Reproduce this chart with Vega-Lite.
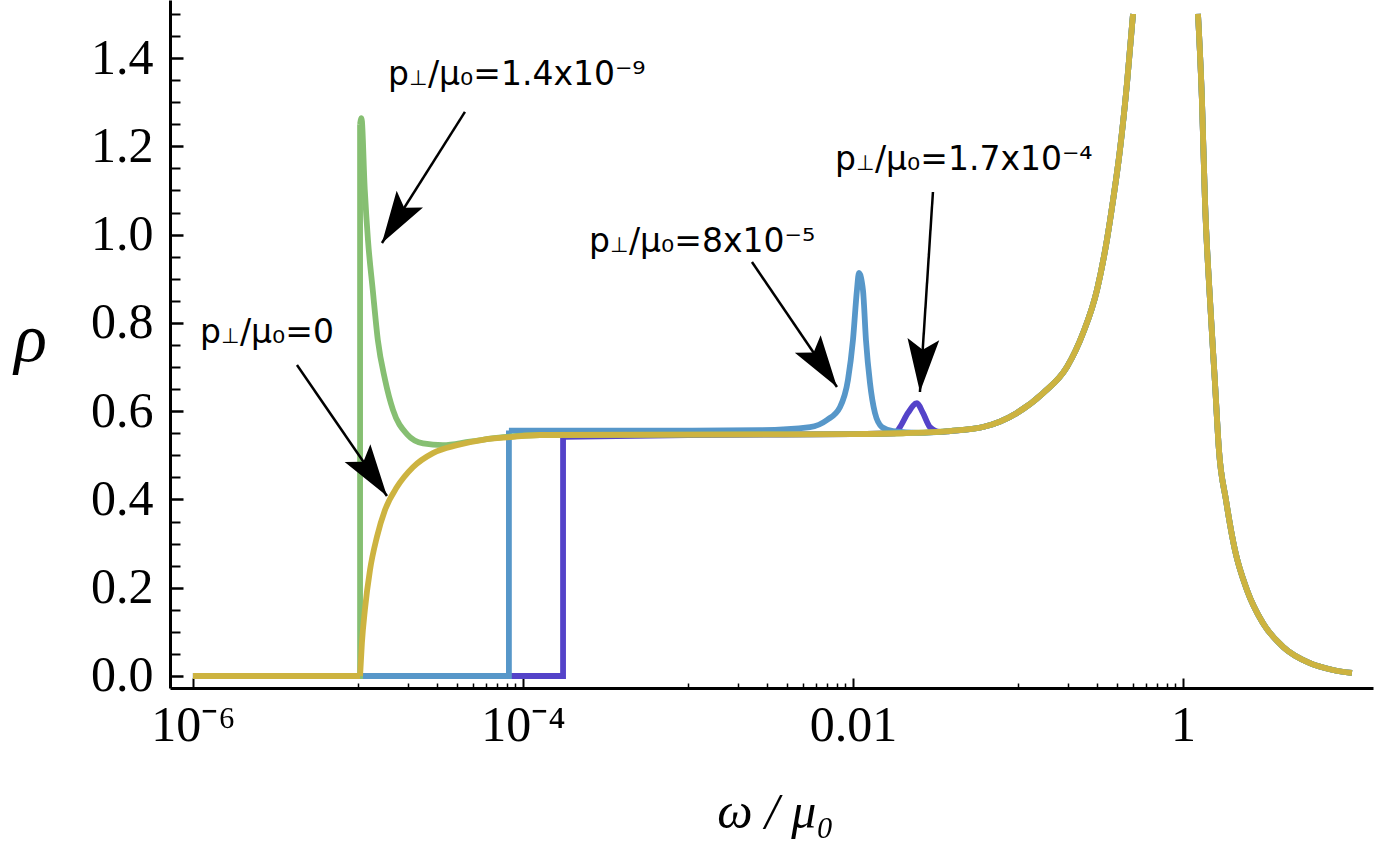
{
  "$schema": "https://vega.github.io/schema/vega-lite/v6.json",
  "autosize": "none",
  "width": 1203,
  "height": 688,
  "padding": {"left": 170, "top": 0, "right": 4, "bottom": 162},
  "background": "white",
  "config": {"view": {"stroke": null}, "axis": {"grid": false}},
  "resolve": {"axis": {"x": "independent", "y": "independent"}},
  "datasets": {
    "curves": [
      {"s":"v17","k":"step","g":"a","i":0,"x":1e-6,"y":0},
      {"s":"v17","k":"step","g":"a","i":1,"x":1.75e-4,"y":0},
      {"s":"v17","k":"step","g":"a","i":2,"x":1.75e-4,"y":0.542},
      {"s":"v17","k":"curve","g":"a","i":2,"x":1.75e-4,"y":0.542},
      {"s":"v17","k":"curve","g":"a","i":3,"x":1e-3,"y":0.546},
      {"s":"v17","k":"curve","g":"a","i":4,"x":0.01,"y":0.548},
      {"s":"v17","k":"curve","g":"a","i":5,"x":0.018,"y":0.550},
      {"s":"v17","k":"curve","g":"a","i":6,"x":0.01927,"y":0.564},
      {"s":"v17","k":"curve","g":"a","i":7,"x":0.02154,"y":0.596},
      {"s":"v17","k":"curve","g":"a","i":8,"x":0.02443,"y":0.618},
      {"s":"v17","k":"curve","g":"a","i":9,"x":0.02655,"y":0.596},
      {"s":"v17","k":"curve","g":"a","i":10,"x":0.02928,"y":0.564},
      {"s":"v17","k":"curve","g":"a","i":11,"x":0.03367,"y":0.553},
      {"s":"v17","k":"curve","g":"a","i":100,"x":0.0387,"y":0.555},
      {"s":"v17","k":"curve","g":"a","i":101,"x":0.0614,"y":0.564},
      {"s":"v17","k":"curve","g":"a","i":102,"x":0.0986,"y":0.596},
      {"s":"v17","k":"curve","g":"a","i":103,"x":0.142,"y":0.641},
      {"s":"v17","k":"curve","g":"a","i":104,"x":0.198,"y":0.700},
      {"s":"v17","k":"curve","g":"a","i":105,"x":0.248,"y":0.777},
      {"s":"v17","k":"curve","g":"a","i":106,"x":0.301,"y":0.874},
      {"s":"v17","k":"curve","g":"a","i":107,"x":0.346,"y":0.988},
      {"s":"v17","k":"curve","g":"a","i":108,"x":0.377,"y":1.078},
      {"s":"v17","k":"curve","g":"a","i":109,"x":0.415,"y":1.192},
      {"s":"v17","k":"curve","g":"a","i":110,"x":0.458,"y":1.343},
      {"s":"v17","k":"curve","g":"a","i":111,"x":0.498,"y":1.5},
      {"s":"v17","k":"curve","g":"b","i":200,"x":1.233,"y":1.5},
      {"s":"v17","k":"curve","g":"b","i":201,"x":1.303,"y":1.305},
      {"s":"v17","k":"curve","g":"b","i":202,"x":1.359,"y":1.078},
      {"s":"v17","k":"curve","g":"b","i":203,"x":1.458,"y":0.852},
      {"s":"v17","k":"curve","g":"b","i":204,"x":1.563,"y":0.664},
      {"s":"v17","k":"curve","g":"b","i":205,"x":1.652,"y":0.512},
      {"s":"v17","k":"curve","g":"b","i":206,"x":1.822,"y":0.399},
      {"s":"v17","k":"curve","g":"b","i":207,"x":2.066,"y":0.285},
      {"s":"v17","k":"curve","g":"b","i":208,"x":2.442,"y":0.195},
      {"s":"v17","k":"curve","g":"b","i":209,"x":3.05,"y":0.120},
      {"s":"v17","k":"curve","g":"b","i":210,"x":4.04,"y":0.066},
      {"s":"v17","k":"curve","g":"b","i":211,"x":5.88,"y":0.029},
      {"s":"v17","k":"curve","g":"b","i":212,"x":8.11,"y":0.0136},
      {"s":"v17","k":"curve","g":"b","i":213,"x":10.57,"y":0.0068},

      {"s":"b8","k":"step","g":"a","i":0,"x":1e-6,"y":0},
      {"s":"b8","k":"step","g":"a","i":1,"x":8.22e-5,"y":0},
      {"s":"b8","k":"step","g":"a","i":2,"x":8.22e-5,"y":0.556},
      {"s":"b8","k":"curve","g":"a","i":2,"x":8.22e-5,"y":0.556},
      {"s":"b8","k":"curve","g":"a","i":3,"x":1e-3,"y":0.556},
      {"s":"b8","k":"curve","g":"a","i":4,"x":2.73e-3,"y":0.557},
      {"s":"b8","k":"curve","g":"a","i":5,"x":5.49e-3,"y":0.564},
      {"s":"b8","k":"curve","g":"a","i":6,"x":6.96e-3,"y":0.580},
      {"s":"b8","k":"curve","g":"a","i":7,"x":8.34e-3,"y":0.609},
      {"s":"b8","k":"curve","g":"a","i":8,"x":9.33e-3,"y":0.671},
      {"s":"b8","k":"curve","g":"a","i":9,"x":0.0100,"y":0.761},
      {"s":"b8","k":"curve","g":"a","i":10,"x":0.01057,"y":0.874},
      {"s":"b8","k":"curve","g":"a","i":11,"x":0.01087,"y":0.913},
      {"s":"b8","k":"curve","g":"a","i":12,"x":0.0115,"y":0.874},
      {"s":"b8","k":"curve","g":"a","i":13,"x":0.01199,"y":0.761},
      {"s":"b8","k":"curve","g":"a","i":14,"x":0.01268,"y":0.664},
      {"s":"b8","k":"curve","g":"a","i":15,"x":0.01359,"y":0.596},
      {"s":"b8","k":"curve","g":"a","i":16,"x":0.01499,"y":0.564},
      {"s":"b8","k":"curve","g":"a","i":17,"x":0.01748,"y":0.555},
      {"s":"b8","k":"curve","g":"a","i":18,"x":0.025,"y":0.551},
      {"s":"b8","k":"curve","g":"a","i":100,"x":0.0387,"y":0.555},
      {"s":"b8","k":"curve","g":"a","i":101,"x":0.0614,"y":0.564},
      {"s":"b8","k":"curve","g":"a","i":102,"x":0.0986,"y":0.596},
      {"s":"b8","k":"curve","g":"a","i":103,"x":0.142,"y":0.641},
      {"s":"b8","k":"curve","g":"a","i":104,"x":0.198,"y":0.700},
      {"s":"b8","k":"curve","g":"a","i":105,"x":0.248,"y":0.777},
      {"s":"b8","k":"curve","g":"a","i":106,"x":0.301,"y":0.874},
      {"s":"b8","k":"curve","g":"a","i":107,"x":0.346,"y":0.988},
      {"s":"b8","k":"curve","g":"a","i":108,"x":0.377,"y":1.078},
      {"s":"b8","k":"curve","g":"a","i":109,"x":0.415,"y":1.192},
      {"s":"b8","k":"curve","g":"a","i":110,"x":0.458,"y":1.343},
      {"s":"b8","k":"curve","g":"a","i":111,"x":0.498,"y":1.5},
      {"s":"b8","k":"curve","g":"b","i":200,"x":1.233,"y":1.5},
      {"s":"b8","k":"curve","g":"b","i":201,"x":1.303,"y":1.305},
      {"s":"b8","k":"curve","g":"b","i":202,"x":1.359,"y":1.078},
      {"s":"b8","k":"curve","g":"b","i":203,"x":1.458,"y":0.852},
      {"s":"b8","k":"curve","g":"b","i":204,"x":1.563,"y":0.664},
      {"s":"b8","k":"curve","g":"b","i":205,"x":1.652,"y":0.512},
      {"s":"b8","k":"curve","g":"b","i":206,"x":1.822,"y":0.399},
      {"s":"b8","k":"curve","g":"b","i":207,"x":2.066,"y":0.285},
      {"s":"b8","k":"curve","g":"b","i":208,"x":2.442,"y":0.195},
      {"s":"b8","k":"curve","g":"b","i":209,"x":3.05,"y":0.120},
      {"s":"b8","k":"curve","g":"b","i":210,"x":4.04,"y":0.066},
      {"s":"b8","k":"curve","g":"b","i":211,"x":5.88,"y":0.029},
      {"s":"b8","k":"curve","g":"b","i":212,"x":8.11,"y":0.0136},
      {"s":"b8","k":"curve","g":"b","i":213,"x":10.57,"y":0.0068},

      {"s":"g14","k":"step","g":"a","i":0,"x":1e-6,"y":0},
      {"s":"g14","k":"step","g":"a","i":1,"x":1.03e-5,"y":0},
      {"s":"g14","k":"step","g":"a","i":2,"x":1.03e-5,"y":1.25},
      {"s":"g14","k":"curve","g":"a","i":2,"x":1.03e-5,"y":1.25},
      {"s":"g14","k":"curve","g":"a","i":3,"x":1.05e-5,"y":1.264},
      {"s":"g14","k":"curve","g":"a","i":4,"x":1.10e-5,"y":1.101},
      {"s":"g14","k":"curve","g":"a","i":5,"x":1.15e-5,"y":0.988},
      {"s":"g14","k":"curve","g":"a","i":6,"x":1.23e-5,"y":0.874},
      {"s":"g14","k":"curve","g":"a","i":7,"x":1.32e-5,"y":0.761},
      {"s":"g14","k":"curve","g":"a","i":8,"x":1.46e-5,"y":0.671},
      {"s":"g14","k":"curve","g":"a","i":9,"x":1.63e-5,"y":0.603},
      {"s":"g14","k":"curve","g":"a","i":10,"x":1.98e-5,"y":0.548},
      {"s":"g14","k":"curve","g":"a","i":11,"x":2.48e-5,"y":0.527},
      {"s":"g14","k":"curve","g":"a","i":12,"x":3.27e-5,"y":0.523},
      {"s":"g14","k":"curve","g":"a","i":13,"x":4.77e-5,"y":0.531},
      {"s":"g14","k":"curve","g":"a","i":14,"x":7.57e-5,"y":0.541},
      {"s":"g14","k":"curve","g":"a","i":15,"x":1.27e-4,"y":0.546},
      {"s":"g14","k":"curve","g":"a","i":16,"x":1e-3,"y":0.547},
      {"s":"g14","k":"curve","g":"a","i":17,"x":0.01,"y":0.548},
      {"s":"g14","k":"curve","g":"a","i":18,"x":0.02,"y":0.550},
      {"s":"g14","k":"curve","g":"a","i":100,"x":0.0387,"y":0.555},
      {"s":"g14","k":"curve","g":"a","i":101,"x":0.0614,"y":0.564},
      {"s":"g14","k":"curve","g":"a","i":102,"x":0.0986,"y":0.596},
      {"s":"g14","k":"curve","g":"a","i":103,"x":0.142,"y":0.641},
      {"s":"g14","k":"curve","g":"a","i":104,"x":0.198,"y":0.700},
      {"s":"g14","k":"curve","g":"a","i":105,"x":0.248,"y":0.777},
      {"s":"g14","k":"curve","g":"a","i":106,"x":0.301,"y":0.874},
      {"s":"g14","k":"curve","g":"a","i":107,"x":0.346,"y":0.988},
      {"s":"g14","k":"curve","g":"a","i":108,"x":0.377,"y":1.078},
      {"s":"g14","k":"curve","g":"a","i":109,"x":0.415,"y":1.192},
      {"s":"g14","k":"curve","g":"a","i":110,"x":0.458,"y":1.343},
      {"s":"g14","k":"curve","g":"a","i":111,"x":0.498,"y":1.5},
      {"s":"g14","k":"curve","g":"b","i":200,"x":1.233,"y":1.5},
      {"s":"g14","k":"curve","g":"b","i":201,"x":1.303,"y":1.305},
      {"s":"g14","k":"curve","g":"b","i":202,"x":1.359,"y":1.078},
      {"s":"g14","k":"curve","g":"b","i":203,"x":1.458,"y":0.852},
      {"s":"g14","k":"curve","g":"b","i":204,"x":1.563,"y":0.664},
      {"s":"g14","k":"curve","g":"b","i":205,"x":1.652,"y":0.512},
      {"s":"g14","k":"curve","g":"b","i":206,"x":1.822,"y":0.399},
      {"s":"g14","k":"curve","g":"b","i":207,"x":2.066,"y":0.285},
      {"s":"g14","k":"curve","g":"b","i":208,"x":2.442,"y":0.195},
      {"s":"g14","k":"curve","g":"b","i":209,"x":3.05,"y":0.120},
      {"s":"g14","k":"curve","g":"b","i":210,"x":4.04,"y":0.066},
      {"s":"g14","k":"curve","g":"b","i":211,"x":5.88,"y":0.029},
      {"s":"g14","k":"curve","g":"b","i":212,"x":8.11,"y":0.0136},
      {"s":"g14","k":"curve","g":"b","i":213,"x":10.57,"y":0.0068},

      {"s":"p0","k":"step","g":"a","i":0,"x":1e-6,"y":0},
      {"s":"p0","k":"step","g":"a","i":1,"x":1.03e-5,"y":0},
      {"s":"p0","k":"curve","g":"a","i":1,"x":1.03e-5,"y":0},
      {"s":"p0","k":"curve","g":"a","i":2,"x":1.057e-5,"y":0.075},
      {"s":"p0","k":"curve","g":"a","i":3,"x":1.102e-5,"y":0.150},
      {"s":"p0","k":"curve","g":"a","i":4,"x":1.183e-5,"y":0.240},
      {"s":"p0","k":"curve","g":"a","i":5,"x":1.303e-5,"y":0.315},
      {"s":"p0","k":"curve","g":"a","i":6,"x":1.458e-5,"y":0.376},
      {"s":"p0","k":"curve","g":"a","i":7,"x":1.723e-5,"y":0.428},
      {"s":"p0","k":"curve","g":"a","i":8,"x":2.154e-5,"y":0.473},
      {"s":"p0","k":"curve","g":"a","i":9,"x":2.848e-5,"y":0.505},
      {"s":"p0","k":"curve","g":"a","i":10,"x":3.98e-5,"y":0.523},
      {"s":"p0","k":"curve","g":"a","i":11,"x":5.72e-5,"y":0.535},
      {"s":"p0","k":"curve","g":"a","i":12,"x":8.34e-5,"y":0.541},
      {"s":"p0","k":"curve","g":"a","i":13,"x":1.268e-4,"y":0.546},
      {"s":"p0","k":"curve","g":"a","i":14,"x":1e-3,"y":0.547},
      {"s":"p0","k":"curve","g":"a","i":15,"x":0.01,"y":0.548},
      {"s":"p0","k":"curve","g":"a","i":16,"x":0.02,"y":0.550},
      {"s":"p0","k":"curve","g":"a","i":100,"x":0.0387,"y":0.555},
      {"s":"p0","k":"curve","g":"a","i":101,"x":0.0614,"y":0.564},
      {"s":"p0","k":"curve","g":"a","i":102,"x":0.0986,"y":0.596},
      {"s":"p0","k":"curve","g":"a","i":103,"x":0.142,"y":0.641},
      {"s":"p0","k":"curve","g":"a","i":104,"x":0.198,"y":0.700},
      {"s":"p0","k":"curve","g":"a","i":105,"x":0.248,"y":0.777},
      {"s":"p0","k":"curve","g":"a","i":106,"x":0.301,"y":0.874},
      {"s":"p0","k":"curve","g":"a","i":107,"x":0.346,"y":0.988},
      {"s":"p0","k":"curve","g":"a","i":108,"x":0.377,"y":1.078},
      {"s":"p0","k":"curve","g":"a","i":109,"x":0.415,"y":1.192},
      {"s":"p0","k":"curve","g":"a","i":110,"x":0.458,"y":1.343},
      {"s":"p0","k":"curve","g":"a","i":111,"x":0.498,"y":1.5},
      {"s":"p0","k":"curve","g":"b","i":200,"x":1.233,"y":1.5},
      {"s":"p0","k":"curve","g":"b","i":201,"x":1.303,"y":1.305},
      {"s":"p0","k":"curve","g":"b","i":202,"x":1.359,"y":1.078},
      {"s":"p0","k":"curve","g":"b","i":203,"x":1.458,"y":0.852},
      {"s":"p0","k":"curve","g":"b","i":204,"x":1.563,"y":0.664},
      {"s":"p0","k":"curve","g":"b","i":205,"x":1.652,"y":0.512},
      {"s":"p0","k":"curve","g":"b","i":206,"x":1.822,"y":0.399},
      {"s":"p0","k":"curve","g":"b","i":207,"x":2.066,"y":0.285},
      {"s":"p0","k":"curve","g":"b","i":208,"x":2.442,"y":0.195},
      {"s":"p0","k":"curve","g":"b","i":209,"x":3.05,"y":0.120},
      {"s":"p0","k":"curve","g":"b","i":210,"x":4.04,"y":0.066},
      {"s":"p0","k":"curve","g":"b","i":211,"x":5.88,"y":0.029},
      {"s":"p0","k":"curve","g":"b","i":212,"x":8.11,"y":0.0136},
      {"s":"p0","k":"curve","g":"b","i":213,"x":10.57,"y":0.0068}
    ],
    "arrows": [
      {"id":1,"x":4.45e-5,"y":1.278,"x2":1.398e-5,"y2":0.981},
      {"id":2,"x":4.27e-6,"y":0.7046,"x2":1.499e-5,"y2":0.4078},
      {"id":3,"x":2.443e-3,"y":0.938,"x2":8.0e-3,"y2":0.6547},
      {"id":4,"x":0.03053,"y":1.0965,"x2":0.02547,"y2":0.6434}
    ],
    "labels": [
      {"x":2.655e-5,"y":1.339,"t":"/μ₀=1.4x10⁻⁹"},
      {"x":1.927e-6,"y":0.7544,"t":"/μ₀=0"},
      {"x":4.39e-4,"y":0.9606,"t":"/μ₀=8x10⁻⁵"},
      {"x":0.01359,"y":1.1464,"t":"/μ₀=1.7x10⁻⁴"}
    ]
  },
  "encoding": {
    "x": {"field": "x", "type": "quantitative", "scale": {"type": "log", "domain": [7.26e-7, 14.18], "nice": false}, "axis": null},
    "y": {"field": "y", "type": "quantitative", "scale": {"domain": [-0.0272, 1.5315], "nice": false, "zero": false}, "axis": null}
  },
  "layer": [
    {
      "data": {"name": "curves"},
      "mark": {"type": "point", "opacity": 0},
      "encoding": {
        "x": {"field": "x", "type": "quantitative", "axis": {"orient": "bottom", "values": [1e-5,2e-5,3e-5,4e-5,5e-5,6e-5,7e-5,8e-5,9e-5,1e-3,2e-3,3e-3,4e-3,5e-3,6e-3,7e-3,8e-3,9e-3,0.1,0.2,0.3,0.4,0.5,0.6,0.7,0.8,0.9], "labels": false, "domain": false, "ticks": true, "tickSize": -5, "tickWidth": 1.5, "tickColor": "black", "title": null, "grid": false}},
        "y": {"field": "y", "type": "quantitative", "axis": {"orient": "left", "values": [0.05,0.1,0.15,0.25,0.3,0.35,0.45,0.5,0.55,0.65,0.7,0.75,0.85,0.9,0.95,1.05,1.1,1.15,1.25,1.3,1.35,1.45,1.5], "labels": false, "domain": false, "ticks": true, "tickSize": -10, "tickWidth": 2, "tickColor": "black", "title": null, "grid": false}}
      }
    },
    {
      "data": {"name": "curves"},
      "transform": [{"filter": "datum.k == 'step'"}],
      "mark": {"type": "line", "strokeWidth": 5.8, "strokeJoin": "miter", "interpolate": "linear", "clip": true},
      "encoding": {
        "x": {"field": "x", "type": "quantitative", "axis": {
          "orient": "bottom", "values": [1e-6, 1e-4, 0.01, 1],
          "labelExpr": "datum.value < 2e-6 ? '10⁻⁶' : datum.value < 2e-4 ? '10⁻⁴' : datum.value < 0.02 ? '0.01' : '1'",
          "labelFont": "Liberation Serif", "labelFontSize": 50, "labelColor": "black", "labelPadding": 22, "labelFlush": false, "labelOverlap": false,
          "tickSize": -10, "tickWidth": 2, "tickColor": "black", "domainColor": "black", "domainWidth": 3,
          "title": "ω / μ₀", "titleFont": "Liberation Serif", "titleFontStyle": "italic", "titleFontWeight": "normal", "titleFontSize": 50, "titleColor": "black", "titleBaseline": "alphabetic", "titleY": 139, "titleX": 605
        }},
        "y": {"field": "y", "type": "quantitative", "axis": {
          "orient": "left", "values": [0, 0.2, 0.4, 0.6, 0.8, 1.0, 1.2, 1.4], "format": ".1f",
          "labelFont": "Liberation Serif", "labelFontSize": 50, "labelColor": "black", "labelPadding": 30, "labelFlush": false, "labelOverlap": false,
          "tickSize": -13, "tickWidth": 2.5, "tickColor": "black", "domainColor": "black", "domainWidth": 3,
          "title": "ρ", "titleAngle": 0, "titleFont": "Liberation Serif", "titleFontStyle": "italic", "titleFontWeight": "normal", "titleFontSize": 68, "titleColor": "black", "titleAlign": "center", "titleBaseline": "alphabetic", "titleX": -140, "titleY": 360
        }},
        "color": {"field": "s", "type": "nominal", "scale": {"domain": ["v17", "b8", "g14", "p0"], "range": ["#5443C9", "#5797C9", "#86BF72", "#CDB340"]}, "legend": null},
        "detail": {"field": "g", "type": "nominal"},
        "order": {"field": "i", "type": "quantitative"}
      }
    },
    {
      "data": {"name": "curves"},
      "transform": [{"filter": "datum.k == 'curve'"}],
      "mark": {"type": "line", "strokeWidth": 5.8, "strokeJoin": "round", "interpolate": "monotone", "clip": true},
      "encoding": {
        "color": {"field": "s", "type": "nominal", "legend": null},
        "detail": {"field": "g", "type": "nominal"},
        "order": {"field": "i", "type": "quantitative"}
      }
    },
    {
      "data": {"name": "arrows"},
      "mark": {"type": "rule", "color": "black", "strokeWidth": 2.5},
      "encoding": {
        "x2": {"field": "x2"},
        "y2": {"field": "y2"}
      }
    },
    {
      "data": {"name": "arrows"},
      "transform": [{"filter": "datum.id == 1"}],
      "mark": {"type": "point", "shape": "M0,0 L0.6,2 L0,1.6 L-0.6,2 Z", "size": 2704, "angle": 212.4, "filled": true, "color": "black", "opacity": 1, "strokeWidth": 0},
      "encoding": {"x": {"field": "x2", "type": "quantitative", "axis": null}, "y": {"field": "y2", "type": "quantitative", "axis": null}}
    },
    {
      "data": {"name": "arrows"},
      "transform": [{"filter": "datum.id == 2"}],
      "mark": {"type": "point", "shape": "M0,0 L0.6,2 L0,1.6 L-0.6,2 Z", "size": 2704, "angle": 145.5, "filled": true, "color": "black", "opacity": 1, "strokeWidth": 0},
      "encoding": {"x": {"field": "x2", "type": "quantitative", "axis": null}, "y": {"field": "y2", "type": "quantitative", "axis": null}}
    },
    {
      "data": {"name": "arrows"},
      "transform": [{"filter": "datum.id == 3"}],
      "mark": {"type": "point", "shape": "M0,0 L0.6,2 L0,1.6 L-0.6,2 Z", "size": 2704, "angle": 145.8, "filled": true, "color": "black", "opacity": 1, "strokeWidth": 0},
      "encoding": {"x": {"field": "x2", "type": "quantitative", "axis": null}, "y": {"field": "y2", "type": "quantitative", "axis": null}}
    },
    {
      "data": {"name": "arrows"},
      "transform": [{"filter": "datum.id == 4"}],
      "mark": {"type": "point", "shape": "M0,0 L0.6,2 L0,1.6 L-0.6,2 Z", "size": 2809, "angle": 183.7, "filled": true, "color": "black", "opacity": 1, "strokeWidth": 0},
      "encoding": {"x": {"field": "x2", "type": "quantitative", "axis": null}, "y": {"field": "y2", "type": "quantitative", "axis": null}}
    },
    {
      "data": {"name": "labels"},
      "mark": {"type": "text", "font": "DejaVu Sans", "fontSize": 33, "align": "right", "baseline": "alphabetic", "dx": -19, "color": "black"},
      "encoding": {"text": {"value": "p"}}
    },
    {
      "data": {"name": "labels"},
      "mark": {"type": "text", "font": "DejaVu Sans", "fontSize": 21, "align": "left", "baseline": "alphabetic", "dx": -19, "color": "black"},
      "encoding": {"text": {"value": "⊥"}}
    },
    {
      "data": {"name": "labels"},
      "mark": {"type": "text", "font": "DejaVu Sans", "fontSize": 33, "align": "left", "baseline": "alphabetic", "color": "black"},
      "encoding": {"text": {"field": "t"}}
    }
  ]
}
